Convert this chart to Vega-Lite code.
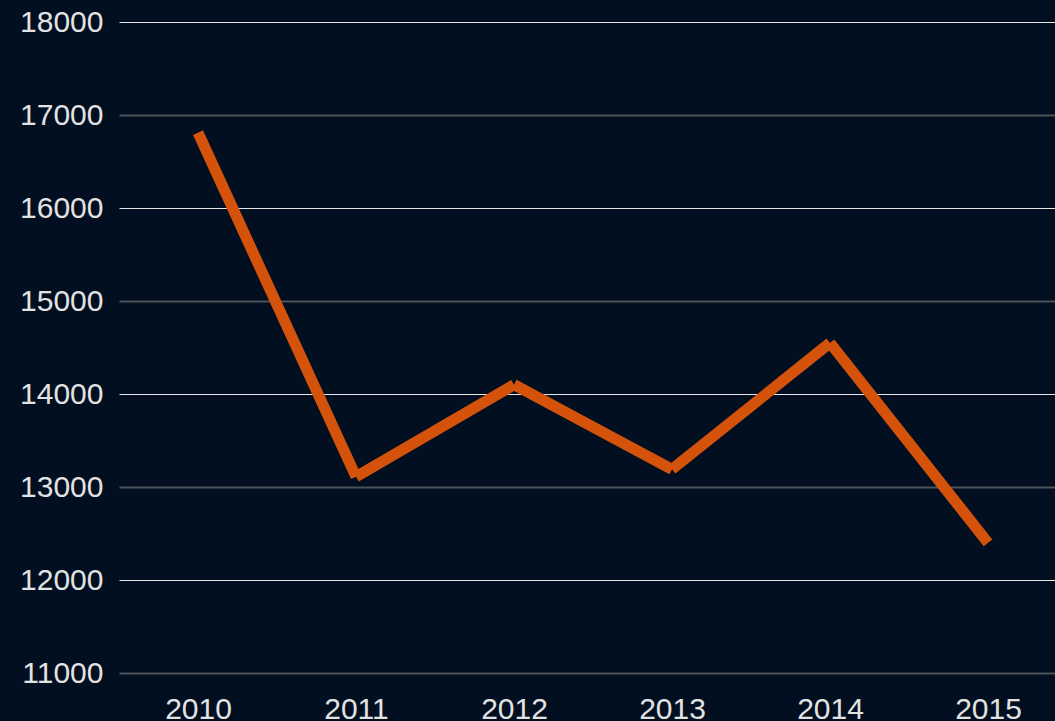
{
  "$schema": "https://vega.github.io/schema/vega-lite/v6.json",
  "autosize": {"type": "none"},
  "padding": {"left": 119, "top": 22, "right": 0, "bottom": 48},
  "width": 948,
  "height": 651,
  "background": "#010f21",
  "config": {
    "view": {"stroke": null},
    "axis": {"labelFont": "Liberation Sans", "labelFontSize": 30, "labelColor": "#e2e2e2", "domain": false, "ticks": false, "title": null}
  },
  "data": {
    "values": [
      {"year": "2010", "value": 16810},
      {"year": "2011", "value": 13110},
      {"year": "2012", "value": 14100},
      {"year": "2013", "value": 13190},
      {"year": "2014", "value": 14550},
      {"year": "2015", "value": 12400}
    ]
  },
  "transform": [
    {"window": [{"op": "lead", "field": "year", "as": "year2"}, {"op": "lead", "field": "value", "as": "value2"}], "sort": [{"field": "year"}]},
    {"filter": "datum.year2 != null"}
  ],
  "mark": {"type": "rule", "color": "#d4520a", "strokeWidth": 11, "strokeCap": "butt"},
  "encoding": {
    "x": {"field": "year", "type": "ordinal", "scale": {"type": "point", "padding": 0.5, "domain": ["2010", "2011", "2012", "2013", "2014", "2015"]}, "axis": {"labelAngle": 0, "labelPadding": 21, "grid": false}},
    "x2": {"field": "year2"},
    "y": {"field": "value", "type": "quantitative", "scale": {"domain": [11000, 18000], "nice": false, "zero": false}, "axis": {"values": [11000, 12000, 13000, 14000, 15000, 16000, 17000, 18000], "format": "d", "labelPadding": 16, "grid": true, "gridColor": {"condition": {"test": "datum.value % 2000 === 0", "value": "#e6e6e6"}, "value": "#4d535b"}, "gridWidth": {"condition": {"test": "datum.value % 2000 === 0", "value": 1.2}, "value": 2}, "gridOpacity": 1}},
    "y2": {"field": "value2"}
  }
}
